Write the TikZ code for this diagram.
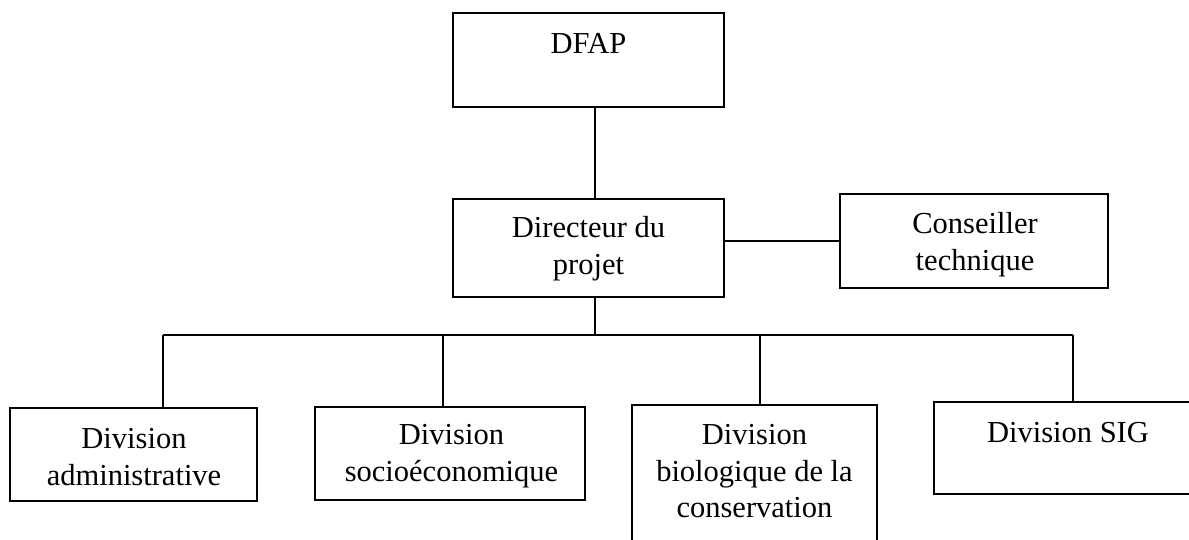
\documentclass[tikz,border=0pt]{standalone}
\usepackage{fontspec}
\setmainfont{Liberation Serif}
\begin{document}
\begin{tikzpicture}[x=1pt,y=1pt,
  box/.style={draw=black, line width=2.2pt, rectangle, inner sep=0pt, fill=none},
  txt/.style={align=center, inner sep=0pt, font=\fontsize{30.5}{36.5}\selectfont},
  link/.style={draw=black, line width=1.8pt}]
\useasboundingbox (0,0) rectangle (1189,-539);
\clip (0,0) rectangle (1189,-539);
\fill[white] (0,0) rectangle (1189,-539);

% boxes
\node[box, minimum width=271pt, minimum height=94pt] (dfap) at (588.5,-60) {};
\node[box, minimum width=271pt, minimum height=98pt] (dir) at (588.5,-248) {};
\node[box, minimum width=268pt, minimum height=94pt] (cons) at (974,-241) {};
\node[box, minimum width=247pt, minimum height=93pt] (admin) at (133.5,-454.5) {};
\node[box, minimum width=270pt, minimum height=93pt] (socio) at (450,-453.5) {};
\node[box, minimum width=245pt, minimum height=180pt] (bio) at (754.5,-495) {};
\node[box, minimum width=268pt, minimum height=92pt] (sig) at (1068,-448) {};

% texts
\node[txt] (dfapT) at (588.5,-43) {DFAP};
\node[txt] (dirT) at (588.5,-248.5) {Directeur du\\projet};
\node[txt] (consT) at (975,-244.5) {Conseiller\\technique};
\node[txt] (adminT) at (134,-457) {Division\\administrative};
\node[txt] (socioT) at (451.5,-456) {Division\\socioéconomique};
\node[txt] (bioT) at (754.5,-471.5) {Division\\biologique de la\\conservation};
\node[txt] (sigT) at (1068,-433) {Division SIG};

% junction coordinates
\coordinate (trunk) at (595,-335);
\coordinate (b1) at (163,-335);
\coordinate (b2) at (443,-335);
\coordinate (b3) at (760,-335);
\coordinate (b4) at (1073,-335);

% connectors
\draw[link] (dfap.south -| trunk) -- (dir.north -| trunk);
\draw[link] (dir.south -| trunk) -- (trunk);
\draw[link] (dir.east |- cons.west) -- (cons.west);
\draw[link] (b1) -- (b4);
\draw[link] (b1) -- (admin.north -| b1);
\draw[link] (b2) -- (socio.north -| b2);
\draw[link] (b3) -- (bio.north -| b3);
\draw[link] (b4) -- (sig.north -| b4);
\end{tikzpicture}
\end{document}
